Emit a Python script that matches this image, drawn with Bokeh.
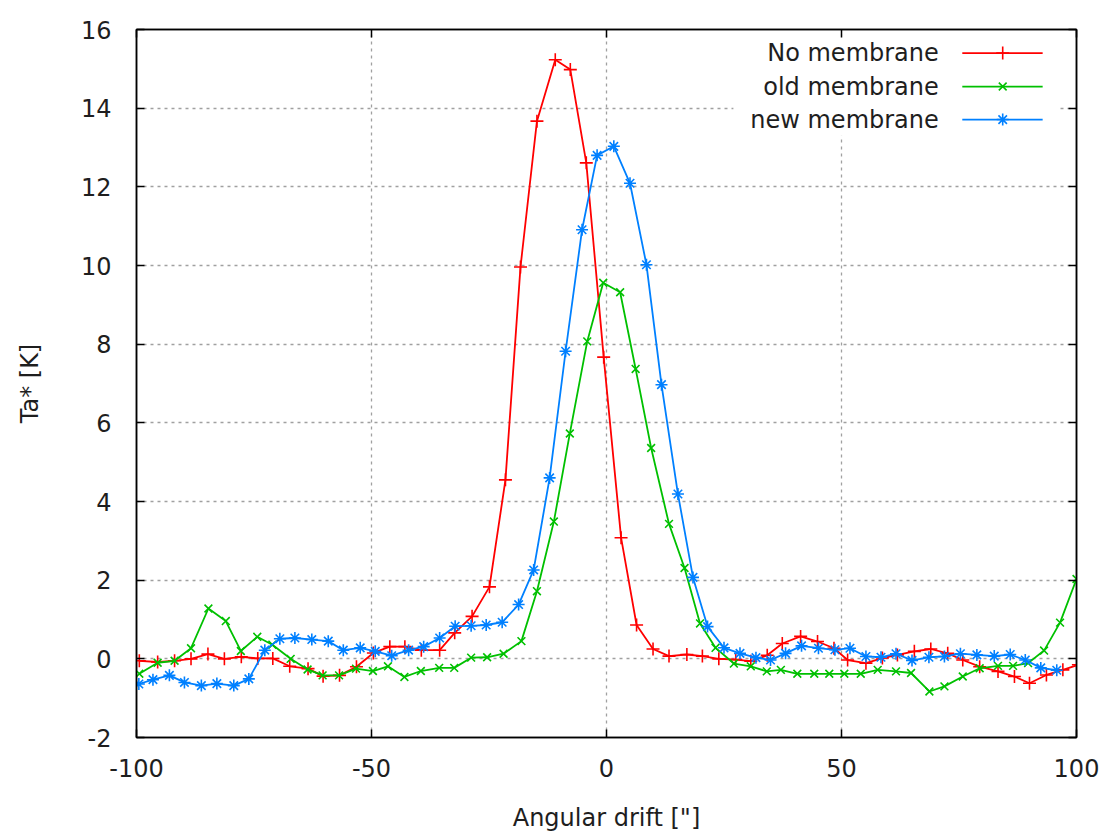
from bokeh.plotting import figure
from bokeh.models import FixedTicker, LinearAxis, Range1d, Label, BoxAnnotation
from bokeh.embed import file_html
from bokeh.resources import INLINE

# ---- data ----
x_ticks = [-100, -50, 0, 50, 100]
x_tick_labels = ["-100", "-50", "0", "50", "100"]
y_ticks = [-2, 0, 2, 4, 6, 8, 10, 12, 14, 16]
y_tick_labels = ["-2", "0", "2", "4", "6", "8", "10", "12", "14", "16"]

series_names = ["No membrane", "old membrane", "new membrane"]

x_no = [-99.4, -95.5, -91.9, -88.4, -84.8, -81.3, -77.7, -74.2, -71.0, -67.4,
        -63.5, -60.3, -56.8, -53.2, -49.6, -46.1, -42.9, -39.4, -35.5, -32.3,
        -28.6, -24.9, -21.5, -18.3, -14.8, -10.9, -7.7, -4.3, -0.6, 3.1,
        6.4, 9.9, 13.3, 17.1, 20.4, 23.9, 27.5, 30.7, 34.2, 37.4,
        41.3, 44.9, 48.4, 51.3, 55.2, 58.7, 61.9, 65.5, 69.0, 72.6,
        75.8, 79.4, 83.3, 86.8, 90.0, 93.6, 97.1, 100.4]
y_no = [-0.05, -0.08, -0.05, 0.0, 0.12, 0.0, 0.05, 0.01, 0.01, -0.19,
        -0.25, -0.44, -0.42, -0.2, 0.15, 0.31, 0.31, 0.22, 0.22, 0.66,
        1.08, 1.83, 4.55, 9.96, 13.67, 15.23, 14.98, 12.61, 7.67, 3.08,
        0.86, 0.25, 0.07, 0.11, 0.07, 0.0, -0.02, -0.06, 0.09, 0.39,
        0.57, 0.44, 0.27, -0.03, -0.11, 0.02, 0.10, 0.19, 0.25, 0.14,
        -0.03, -0.20, -0.32, -0.45, -0.62, -0.41, -0.28, -0.15]

x_old = [-99.4, -95.5, -91.9, -88.4, -84.7, -81.0, -77.8, -74.3, -71.1, -67.2,
         -63.6, -60.4, -56.9, -53.3, -49.7, -46.5, -43.0, -39.5, -35.6, -32.4,
         -28.8, -25.4, -21.9, -18.1, -14.8, -11.2, -7.8, -4.1, -0.7, 2.9,
         6.2, 9.5, 13.3, 16.6, 19.9, 23.2, 27.1, 30.7, 34.1, 37.1,
         40.6, 44.2, 47.4, 50.6, 54.1, 57.7, 61.6, 64.8, 68.7, 71.9,
         75.8, 79.4, 83.3, 86.5, 89.7, 93.1, 96.5, 100.0]
y_old = [-0.38, -0.1, -0.05, 0.27, 1.28, 0.96, 0.2, 0.56, 0.36, 0.0,
         -0.27, -0.42, -0.42, -0.25, -0.31, -0.19, -0.46, -0.31, -0.23, -0.23,
         0.03, 0.04, 0.13, 0.45, 1.72, 3.49, 5.73, 8.07, 9.56, 9.32,
         7.37, 5.36, 3.43, 2.31, 0.9, 0.28, -0.12, -0.19, -0.32, -0.28,
         -0.38, -0.38, -0.38, -0.38, -0.38, -0.28, -0.32, -0.36, -0.83, -0.70,
         -0.45, -0.24, -0.18, -0.18, -0.11, 0.21, 0.92, 2.03]

x_new = [-99.5, -96.5, -93.0, -89.8, -86.2, -82.9, -79.3, -76.1, -72.7, -69.5,
         -66.3, -62.7, -59.2, -56.0, -52.4, -49.2, -45.7, -42.1, -38.9, -35.5,
         -32.2, -28.8, -25.6, -22.2, -18.7, -15.5, -12.1, -8.7, -5.2, -2.0,
         1.56, 5.0, 8.5, 11.7, 15.2, 18.4, 21.5, 25.0, 28.4, 31.8,
         34.9, 38.1, 41.5, 45.1, 48.6, 51.8, 55.2, 58.4, 61.6, 65.0,
         68.6, 71.9, 75.3, 78.8, 82.5, 85.9, 89.1, 92.4, 95.8]
y_new = [-0.64, -0.53, -0.42, -0.6, -0.68, -0.63, -0.68, -0.51, 0.22, 0.51,
         0.53, 0.49, 0.45, 0.22, 0.28, 0.19, 0.08, 0.22, 0.31, 0.53,
         0.83, 0.84, 0.86, 0.93, 1.38, 2.26, 4.60, 7.82, 10.91, 12.80,
         13.03, 12.09, 10.02, 6.97, 4.19, 2.07, 0.82, 0.28, 0.14, 0.03,
         -0.03, 0.14, 0.33, 0.27, 0.23, 0.27, 0.06, 0.04, 0.13, -0.04,
         0.04, 0.06, 0.13, 0.10, 0.07, 0.11, -0.03, -0.23, -0.29]

# ---- styling / layout ----
FONT = "DejaVu Sans"
FSIZE = "24px"
TEXT_COLOR = "#1e1e1e"
colors = ["#ff0000", "#00c000", "#0080ff"]
markers = ["cross", "x", "asterisk"]
msizes = [13, 11, 12]

p = figure(width=1104, height=836,
           x_range=Range1d(-100, 100), y_range=Range1d(-2, 16),
           output_backend="svg", toolbar_location=None,
           min_border_left=136, min_border_right=28,
           min_border_top=29, min_border_bottom=99)
p.background_fill_color = "white"
p.border_fill_color = "white"
p.outline_line_color = "black"
p.outline_line_width = 1.5

xt = FixedTicker(ticks=x_ticks)
yt = FixedTicker(ticks=y_ticks)

def style_axis(ax, ticker, overrides):
    ax.ticker = ticker
    ax.major_tick_in = 8
    ax.major_tick_out = 0
    ax.minor_tick_in = 0
    ax.minor_tick_out = 0
    ax.axis_line_color = "black"
    ax.axis_line_width = 1.5
    ax.major_tick_line_color = "black"
    ax.major_tick_line_width = 1.5
    ax.major_label_text_font = FONT
    ax.major_label_text_font_size = FSIZE
    ax.major_label_text_color = TEXT_COLOR
    ax.axis_label_text_font = FONT
    ax.axis_label_text_font_size = FSIZE
    ax.axis_label_text_font_style = "normal"
    ax.axis_label_text_color = TEXT_COLOR
    if overrides is not None:
        ax.major_label_overrides = overrides

style_axis(p.xaxis[0], xt, {t: s for t, s in zip(x_ticks, x_tick_labels)})
style_axis(p.yaxis[0], yt, {t: s for t, s in zip(y_ticks, y_tick_labels)})
p.xaxis[0].axis_label = "Angular drift [\"]"
p.yaxis[0].axis_label = "Ta* [K]"
p.xaxis[0].major_label_standoff = 21
p.xaxis[0].axis_label_standoff = 24
p.yaxis[0].major_label_standoff = 25
p.yaxis[0].axis_label_standoff = 34

# mirrored tick marks on top and right (no labels)
for loc, tk in (("above", xt), ("right", yt)):
    ax = LinearAxis()
    style_axis(ax, tk, None)
    ax.major_label_text_font_size = "1px"
    ax.major_label_text_color = None
    ax.major_label_standoff = 0
    ax.axis_label = None
    p.add_layout(ax, loc)

for g, tk in ((p.xgrid[0], xt), (p.ygrid[0], yt)):
    g.ticker = tk
    g.grid_line_color = "#a0a0a0"
    g.grid_line_width = 1.3
    g.grid_line_dash = "3 4"

# ---- series ----
xs = [x_no, x_old, x_new]
ys = [y_no, y_old, y_new]
for xv, yv, c, m, s in zip(xs, ys, colors, markers, msizes):
    p.line(xv, yv, line_color=c, line_width=1.8)
    p.scatter(xv, yv, marker=m, size=s, line_color=c, line_width=1.6)

# ---- legend (text left, sample right, as in gnuplot) ----
LEG_BOX = dict(left=27.0, right=96.2, top=15.85, bottom=13.3)
LEG_TEXT_X = 70.7
LEG_LINE_X = [75.7, 92.8]
LEG_MARK_X = 84.3
LEG_ROWS_Y = [15.40, 14.55, 13.71]

p.add_layout(BoxAnnotation(fill_color="white", fill_alpha=1.0, line_alpha=0.0,
                           level="underlay", **LEG_BOX))
for name, c, m, s, ly in zip(series_names, colors, markers, msizes, LEG_ROWS_Y):
    p.add_layout(Label(x=LEG_TEXT_X, y=ly, text=name, text_align="right",
                       text_baseline="middle", text_font=FONT,
                       text_font_size=FSIZE, text_color=TEXT_COLOR))
    p.line(LEG_LINE_X, [ly, ly], line_color=c, line_width=1.8, level="overlay")
    p.scatter([LEG_MARK_X], [ly], marker=m, size=s, line_color=c,
              line_width=1.6, level="overlay")

open("out.html", "w").write(file_html(p, INLINE))
